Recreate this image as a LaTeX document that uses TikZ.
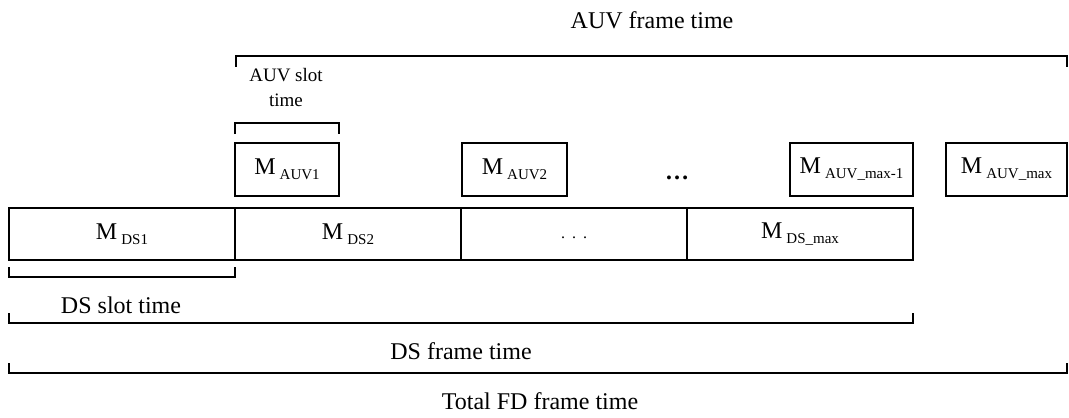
\documentclass[tikz,border=0pt]{standalone}
\usepackage{fontspec}
\setmainfont{Liberation Serif}
\newcommand{\slotlabel}[1]{M\hspace{2pt}\raisebox{-2.5pt}{\fontsize{7.5}{9}\selectfont #1}}

\begin{document}
\begin{tikzpicture}[x=0.5pt, y=-0.5pt, font=\fontsize{12}{14}\selectfont,
  slotbox/.style={draw, line width=0.8pt, inner sep=0, outer sep=0},
  dsbox/.style={slotbox, minimum width=113pt, minimum height=26pt},
  auvbox/.style={slotbox, minimum height=26.5pt},
  bracket/.style={line width=0.8pt},
  timetext/.style={inner sep=0}]

  \useasboundingbox (0,0) rectangle (1069,417);

  % AUV frame
  \node[timetext] (auvframe) at (652,20) {AUV frame time};
  \draw[bracket] (236,67) -- (236,56) -- (1067,56) -- (1067,67);

  \node[timetext, align=center, font=\fontsize{9.5}{12.5}\selectfont] (auvslot) at (286,87.5) {AUV slot\\time};
  \draw[bracket] (235,134) -- (235,123) -- (339,123) -- (339,134);

  \node[auvbox, minimum width=52pt] (auv1) at (287,169.5) {\slotlabel{AUV1}};
  \node[auvbox, minimum width=52.5pt] (auv2) at (514.5,169.5) {\slotlabel{AUV2}};
  \node[timetext] (auvdots) at (677,178) {\textbf{\ldots}};
  \node[auvbox, minimum width=61.5pt] (auvlast) at (851.5,169.5) {\slotlabel{AUV\_max-1}};
  \node[auvbox, minimum width=60.5pt] (auvmax) at (1006.5,169.5) {\slotlabel{AUV\_max}};

  % DS frame
  \node[dsbox] (ds1) at (122,234) {\slotlabel{DS1}};
  \node[dsbox] (ds2) at (348,234) {\slotlabel{DS2}};
  \node[dsbox] (ds3) at (574,234) {\raisebox{-2pt}[0pt][0pt]{\fontsize{8}{9}\selectfont .\hspace{3.5pt}.\hspace{3.5pt}.}};
  \node[dsbox] (dsmax) at (800,234) {\slotlabel{DS\_max}};

  \draw[bracket] (9,267) -- (9,277) -- (235,277) -- (235,267);
  \node[timetext] (dsslot) at (121,305) {DS slot time};

  \draw[bracket] (9,313) -- (9,323) -- (913,323) -- (913,313);
  \node[timetext] (dsframe) at (461,351) {DS frame time};

  \draw[bracket] (9,363) -- (9,373) -- (1067,373) -- (1067,363);
  \node[timetext] (fdframe) at (540,401) {Total FD frame time};

\end{tikzpicture}
\end{document}
